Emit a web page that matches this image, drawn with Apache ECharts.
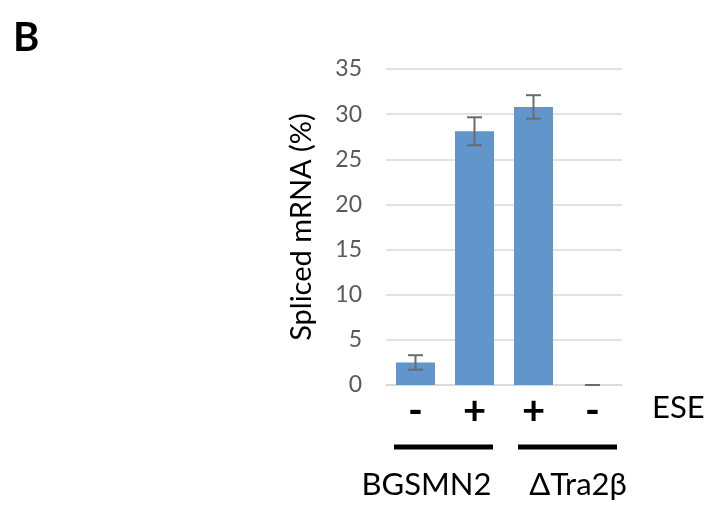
<!DOCTYPE html>
<html><head><meta charset="utf-8">
<script src="https://cdn.jsdelivr.net/npm/echarts@6/dist/echarts.min.js"></script>
<style>html,body{margin:0;padding:0;background:#fff}#c{width:714px;height:511px}</style>
</head><body><div id="c"></div>
<script>
const categories = ['BGSMN2 -ESE', 'BGSMN2 +ESE', 'ΔTra2β +ESE', 'ΔTra2β -ESE'];
const eseLabels = ['-', '+', '+', '-'];
const splicedValues = [2.5, 28.1, 30.8, 0];
const errorValues = [0.8, 1.55, 1.3, 0];
const groupNames = ['BGSMN2', 'ΔTra2β'];
const groupRanges = [[0, 1], [2, 3]];
const yTicks = [0, 5, 10, 15, 20, 25, 30, 35];

const FONT = 'Lato';
const chart = echarts.init(document.getElementById('c'));
chart.setOption({
  animation: false,
  grid: { left: 386, right: 92, top: 69, bottom: 126 },
  xAxis: {
    type: 'category', data: categories,
    axisLine: { show: true, lineStyle: { color: '#d9d9d9', width: 1.5 } },
    axisTick: { show: false },
    axisLabel: { margin: 6, color: '#000', fontFamily: FONT, fontSize: 40, fontWeight: 'bold',
      formatter: (v, i) => eseLabels[i] }
  },
  yAxis: {
    type: 'value', min: yTicks[0], max: yTicks[yTicks.length - 1], interval: 5,
    name: 'Spliced mRNA (%)', nameLocation: 'middle', nameGap: 70,
    nameTextStyle: { color: '#000', fontFamily: FONT, fontSize: 29 },
    axisLine: { show: false }, axisTick: { show: false },
    axisLabel: { margin: 24, color: '#595959', fontFamily: FONT, fontSize: 23 },
    splitLine: { lineStyle: { color: '#d9d9d9', width: 1.5 } }
  },
  series: [
    { type: 'bar', data: splicedValues, barWidth: 39,
      itemStyle: { color: '#6096cb' } },
    { type: 'custom', z: 5,
      data: splicedValues.map((v, i) => [i, v - errorValues[i], v + errorValues[i]]),
      renderItem: (params, api) => {
        const lo = api.coord([api.value(0), api.value(1)]);
        const hi = api.coord([api.value(0), api.value(2)]);
        const hw = 7.5;
        const st = { stroke: '#6b6b6b', lineWidth: 2, fill: null };
        return { type: 'group', children: [
          { type: 'line', shape: { x1: lo[0], y1: lo[1], x2: hi[0], y2: hi[1] }, style: st },
          { type: 'line', shape: { x1: lo[0] - hw, y1: lo[1], x2: lo[0] + hw, y2: lo[1] }, style: st },
          { type: 'line', shape: { x1: hi[0] - hw, y1: hi[1], x2: hi[0] + hw, y2: hi[1] }, style: st }
        ]};
      }
    }
  ]
});

const lineOffsets = [[-21.5, 18.5], [-15.5, 24.5]];
const textOffsets = [-18.5, 15];
const graphics = [
  { type: 'text', left: 13, top: 18, style: { text: 'B', font: 'bold 40px ' + FONT, fill: '#000' } },
  { type: 'text', x: 652, y: 408, style: { text: 'ESE', font: '31px ' + FONT, fill: '#000', verticalAlign: 'middle' } }
];
groupRanges.forEach((r, g) => {
  const a = chart.convertToPixel({ xAxisIndex: 0 }, r[0]);
  const b = chart.convertToPixel({ xAxisIndex: 0 }, r[1]);
  graphics.push({ type: 'line', shape: { x1: a + lineOffsets[g][0], y1: 447, x2: b + lineOffsets[g][1], y2: 447 }, style: { stroke: '#000', lineWidth: 5 } });
  graphics.push({ type: 'text', x: (a + b) / 2 + textOffsets[g], y: 485,
    style: { text: groupNames[g], font: '31px ' + FONT, fill: '#000', align: 'center', verticalAlign: 'middle' } });
});
chart.setOption({ graphic: graphics });
</script></body></html>
